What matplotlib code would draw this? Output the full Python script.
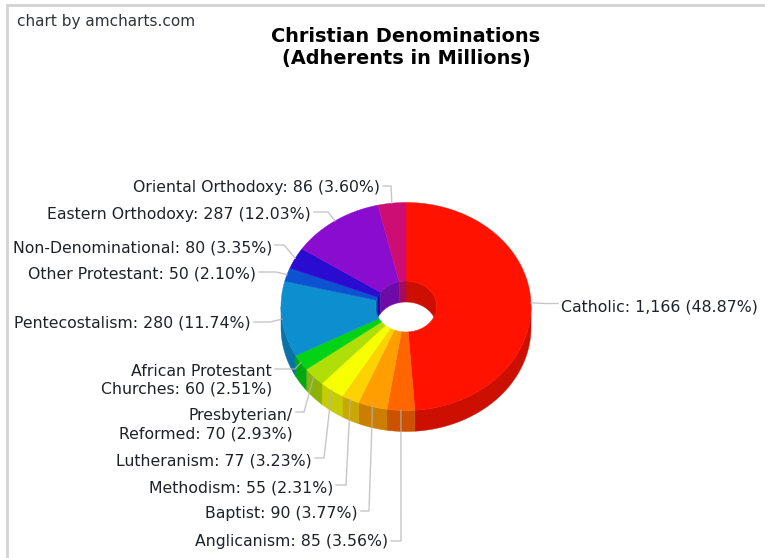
import numpy as np
import matplotlib
matplotlib.use("Agg")
import matplotlib.pyplot as plt
from matplotlib.patches import Polygon

# Adherents per denomination, clockwise from twelve o'clock
denominations = ["Catholic", "Anglicanism", "Baptist", "Methodism", "Lutheranism",
                 "Presbyterian/\nReformed", "African Protestant\nChurches", "Pentecostalism",
                 "Other Protestant", "Non-Denominational", "Eastern Orthodoxy", "Oriental Orthodoxy"]
adherents = [1166, 85, 90, 55, 77, 70, 60, 280, 50, 80, 287, 86]
colors = ["#FF1300", "#FF6600", "#FF9E01", "#FCD202", "#F8FF01", "#B0DE09",
          "#04D215", "#0D8ECF", "#0D52D1", "#2A0CD0", "#8A0CCF", "#CD0D74"]

# Label anchor (text edge x, y) and the elbow of each leader line
label_anchor = [(561, 306.5), (388, 541.7), (358, 513.7), (333, 487.7), (312, 460.7), (293, 424.7),
                (272, 380), (251, 322.7), (256, 273.7), (272, 247.7), (311, 214.7), (380, 187.7)]
leader_elbow = [(545, 303.5), (401, 541), (369, 511), (346, 485), (324, 458), (304, 412),
                (295, 369), (270, 322), (276, 272), (284, 245), (328, 212), (391, 186)]

CX, CY, RX, RY = 406.0, 306.5, 125.0, 104.0
INNER = 0.245
DEPTH = 21.0
WALL_SHADE = 0.8
LINE_COLOR = "#b4b4b4"

fig = plt.figure(figsize=(7.65, 5.58), dpi=100, facecolor="white")
ax = fig.add_axes([0, 0, 1, 1])
ax.set_xlim(0, 765)
ax.set_ylim(558, 0)
ax.axis("off")
plt.rcParams["font.family"] = ["DejaVu Sans"]


def arc(t0, t1, scale=1.0, dy=0.0):
    """Ellipse arc between clockwise angles (degrees from twelve o'clock)."""
    t = np.radians(np.linspace(t0, t1, max(int(abs(t1 - t0)) * 2, 2) + 1))
    return np.column_stack([CX + scale * RX * np.sin(t), CY + dy - scale * RY * np.cos(t)])


def darker(color):
    return tuple(c * WALL_SHADE for c in matplotlib.colors.to_rgb(color))


values = np.array(adherents, dtype=float)
edges = np.concatenate([[0], np.cumsum(values)]) / values.sum() * 360
total = values.sum()

# Far side of the hole: walls visible where the surface faces the viewer
for a, b, c in zip(edges[:-1], edges[1:], colors):
    for lo, hi in ((a, min(b, 90)), (max(a, 270), b)):
        if hi > lo:
            top = arc(lo, hi, INNER)
            low = arc(lo, hi, INNER, DEPTH)
            ax.add_patch(Polygon(np.vstack([top, low[::-1]]), fc=darker(c), ec=darker(c), lw=0.3, zorder=2))

# Front outer wall of the ring
for a, b, c in zip(edges[:-1], edges[1:], colors):
    lo, hi = max(a, 90), min(b, 270)
    if hi > lo:
        top = arc(lo, hi)
        low = arc(lo, hi, 1.0, DEPTH)
        ax.add_patch(Polygon(np.vstack([top, low[::-1]]), fc=darker(c), ec=darker(c), lw=0.3, zorder=2))

# Top surface of the ring
for a, b, c in zip(edges[:-1], edges[1:], colors):
    ax.add_patch(Polygon(np.vstack([arc(a, b), arc(a, b, INNER)[::-1]]), fc=c, ec=c, lw=0.3, zorder=3))

# Labels and leader lines, which run over the ring
for i, (name, v) in enumerate(zip(denominations, adherents)):
    mid = np.radians((edges[i] + edges[i + 1]) / 2)
    tip = (CX + RX * np.sin(mid), CY - RY * np.cos(mid))
    ex, ey = leader_elbow[i]
    tx, ty = label_anchor[i]
    start_x = tx + (-3 if i == 0 else 3)
    ax.plot([start_x, ex, tip[0]], [ey, ey, tip[1]], color=LINE_COLOR, lw=1.0, alpha=0.75,
            solid_joinstyle="miter", zorder=4)
    ax.text(tx, ty, f"{name}: {v:,} ({v / total * 100:.2f}%)", ha="left" if i == 0 else "right",
            va="center", fontsize=11.3, color="#1f2328", linespacing=1.25, zorder=5)

# Chart frame along the top and left edges
ax.plot([7, 7, 765], [558, 5, 5], color="#d3d3d3", lw=2, solid_joinstyle="miter", zorder=1)

ax.text(406, 47.8, "Christian Denominations\n(Adherents in Millions)", ha="center", va="center",
        fontsize=13.9, fontweight="bold", color="black", linespacing=1.18, zorder=5)
ax.text(17, 21.5, "chart by amcharts.com", ha="left", va="center", fontsize=11.0, color="#30343a", zorder=5)

fig.savefig("out.png", dpi=100, facecolor="white")
